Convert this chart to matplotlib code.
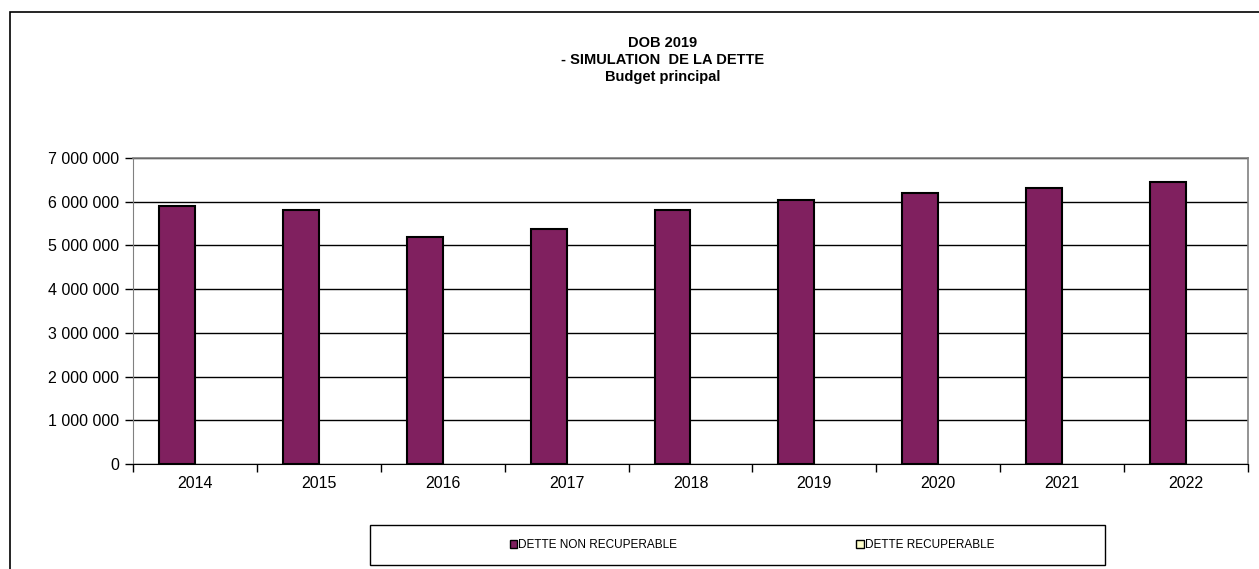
"""Simulation de la dette - budget principal (DOB 2019)."""

import matplotlib.pyplot as plt
import numpy as np
from matplotlib.patches import Patch, Rectangle
from matplotlib.ticker import FuncFormatter

years = ["2014", "2015", "2016", "2017", "2018", "2019", "2020", "2021", "2022"]
dette_non_recuperable = [5910000, 5800000, 5190000, 5380000, 5820000,
                         6040000, 6210000, 6310000, 6460000]
dette_recuperable = [0, 0, 0, 0, 0, 0, 0, 0, 0]

plum = "#80205F"
cream = "#FFFFCC"

plt.rcParams["font.family"] = ["Liberation Sans", "DejaVu Sans"]

fig = plt.figure(figsize=(12.59, 5.69), dpi=100)
W, H = 1259, 569

# outer chart frame (runs off the right and bottom edges)
fig.patches.append(Rectangle((10 / W, -0.1), 1.2, 1 - 12 / H + 0.1,
                             transform=fig.transFigure, fill=False,
                             edgecolor="black", linewidth=1.2))

ax = fig.add_axes([133 / W, 1 - 464 / H, 1115 / W, 306 / H])

x = np.arange(len(years))
bw = 36 / 124
ax.bar(x - bw / 2, dette_non_recuperable, bw, color=plum, edgecolor="black",
       linewidth=1.5, zorder=3)
# recuperable debt is zero everywhere: no visible outline
ax.bar(x + bw / 2, dette_recuperable, bw, color=cream, linewidth=0, zorder=3)

ax.set_xlim(-0.5, len(years) - 0.5)
ax.set_ylim(0, 7000000)
ax.set_yticks(range(0, 7000001, 1000000))
ax.yaxis.set_major_formatter(
    FuncFormatter(lambda v, p: f"{int(v):,}".replace(",", " ")))
ax.grid(axis="y", color="black", linewidth=1.0, zorder=1)

ax.set_xticks(np.arange(-0.5, len(years), 1.0))
ax.set_xticklabels([])
ax.set_xticks(x, minor=True)
ax.set_xticklabels(years, minor=True, fontsize=11.5)
ax.tick_params(axis="x", which="minor", length=0, pad=9)
ax.tick_params(axis="x", which="major", length=6, width=1, color="black")
ax.tick_params(axis="y", length=6, width=1, labelsize=11.5, pad=4,
               color="black")

for side in ["top", "right"]:
    ax.spines[side].set_color("#808080")
    ax.spines[side].set_linewidth(1.2)
ax.spines["left"].set_color("#808080")
ax.spines["bottom"].set_color("black")

title = "DOB 2019\n- SIMULATION  DE LA DETTE\nBudget principal"
fig.text(663 / W, 1 - 36 / H, title, ha="center", va="top", fontsize=10.5,
         fontweight="bold", linespacing=1.25)

# legend box
fig.patches.append(Rectangle((370 / W, 1 - 565 / H), 735 / W, 40 / H,
                             transform=fig.transFigure, fill=False,
                             edgecolor="black", linewidth=1.0))
handles = [Patch(facecolor=plum, edgecolor="black", linewidth=1.0),
           Patch(facecolor=cream, edgecolor="black", linewidth=1.0)]
fig.legend(handles, ["DETTE NON RECUPERABLE", "DETTE RECUPERABLE"],
           loc="center", bbox_to_anchor=(752 / W, 1 - 545 / H), ncol=2,
           frameon=False, fontsize=8.5, handlelength=0.6, handleheight=0.6,
           handletextpad=0.1, columnspacing=15.2)

fig.savefig("out.png", dpi=100)
